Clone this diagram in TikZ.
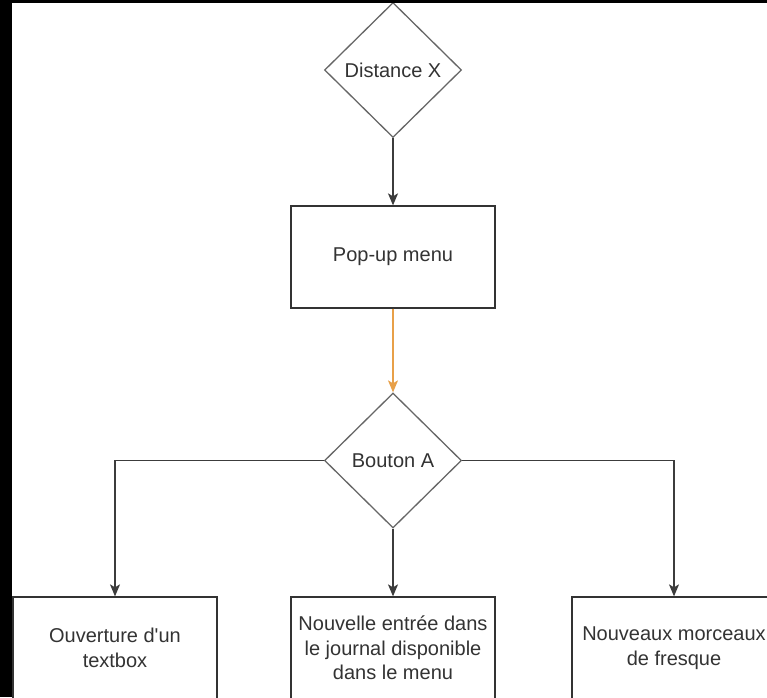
\documentclass[tikz,border=0pt]{standalone}
\usepackage{fontspec}
\setmainfont{Liberation Sans}
\usetikzlibrary{shapes.geometric,arrows.meta}

\definecolor{inkgray}{RGB}{51,51,51}
\definecolor{edgegray}{RGB}{102,102,102}
\definecolor{linegray}{RGB}{60,60,60}
\definecolor{flowOrange}{RGB}{232,160,72}

\tikzset{
  lbl/.style={font=\fontsize{20}{24.5}\selectfont, text=inkgray, align=center},
  decision/.style={lbl, diamond, draw=edgegray, line width=1.3pt, fill=white,
    inner sep=0pt, minimum width=137pt, minimum height=135pt},
  stepbox/.style={lbl, rectangle, draw=inkgray, line width=1.3pt, fill=white,
    inner sep=0pt, minimum width=204pt, minimum height=102pt},
  flow/.style={draw=linegray, line width=1.3pt,
    -{Stealth[length=12pt,width=10pt,inset=3pt]}},
  hotflow/.style={flow, draw=flowOrange, fill=flowOrange}
}

\begin{document}
\begin{tikzpicture}[x=1pt,y=-1pt]
  % frame and canvas
  \fill[black] (0,0) rectangle (767,697);
  \fill[white] (12,3) rectangle (767,697);
  \useasboundingbox (0,0) rectangle (767,697);

  \begin{scope}
    \clip (12,3) rectangle (767,697);

    % nodes
    \node[decision] (dist) at (393,70) {Distance X};
    \node[stepbox] (popup) at (393,257) {Pop-up menu};
    \node[decision] (btn) at (393,460.5) {Bouton A};
    \node[stepbox] (textbox) at (115,648) {Ouverture d\textquotesingle un\\textbox};
    \node[stepbox] (journal) at (393,648) {Nouvelle entrée dans\\le journal disponible\\dans le menu};
    \node[stepbox] (fresque) at (674,648) {Nouveaux morceaux\\de fresque};

    % connectors
    \draw[flow] (dist.south) -- (popup.north);
    \draw[hotflow] (popup.south) -- (btn.north);
    \draw[flow] (btn.west) -| (textbox.north);
    \draw[flow] (btn.south) -- (journal.north);
    \draw[flow] (btn.east) -| (fresque.north);
  \end{scope}
\end{tikzpicture}
\end{document}
